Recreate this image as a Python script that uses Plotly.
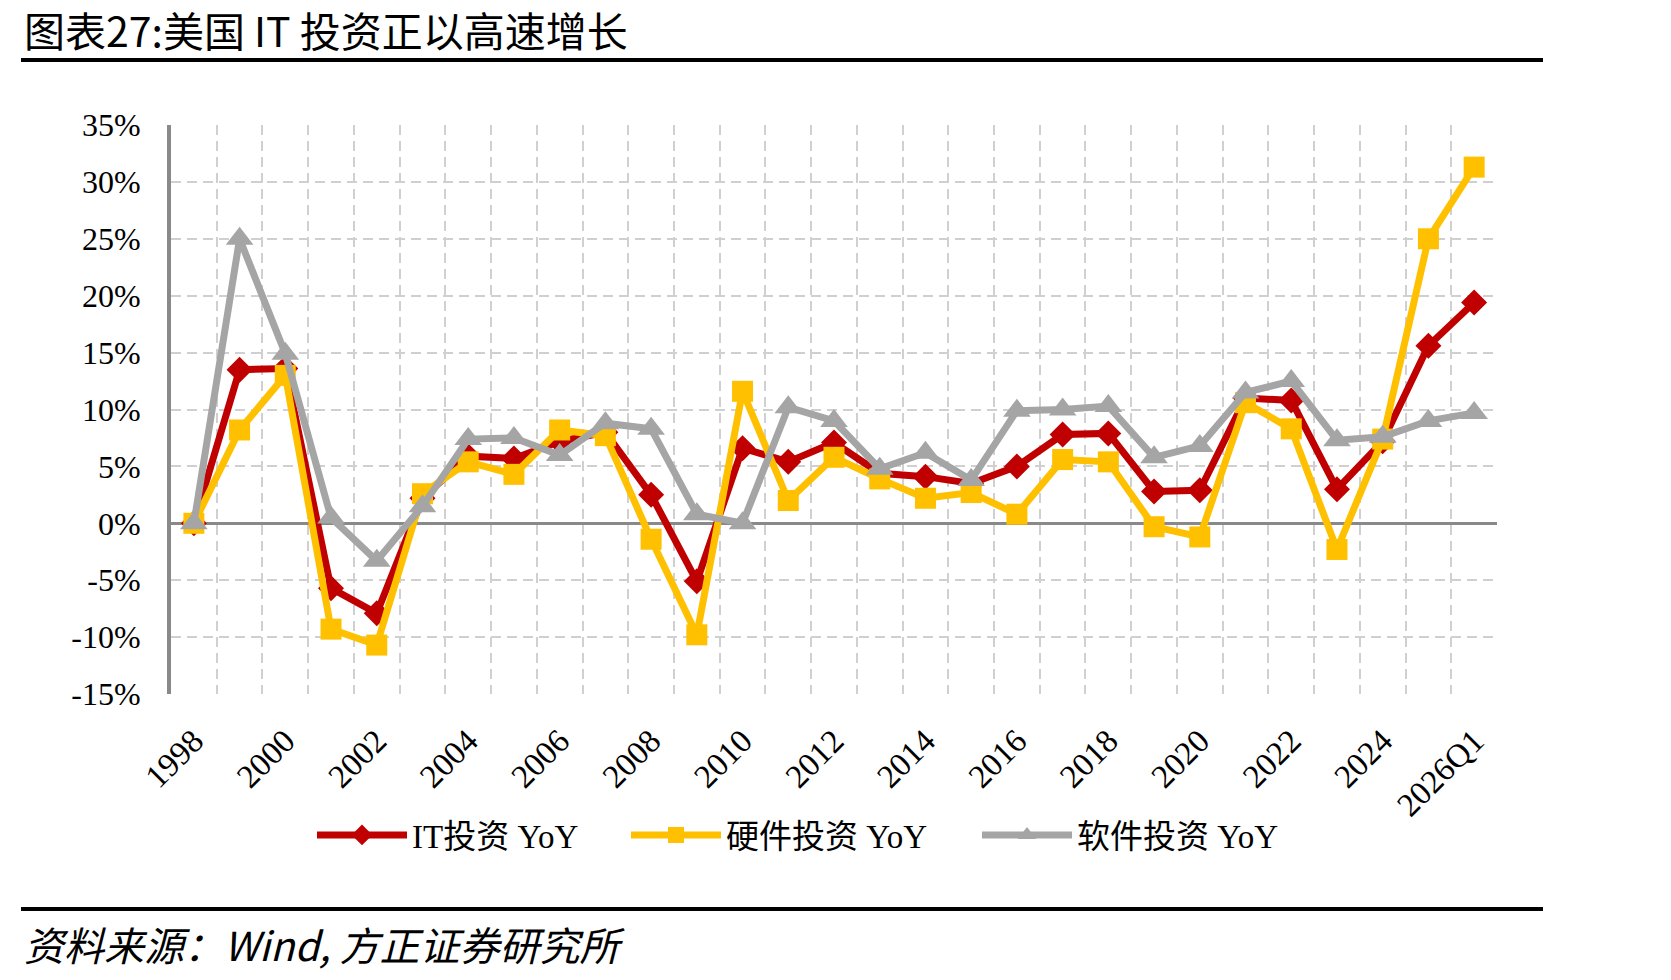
import plotly.graph_objects as go

categories = ["1998", "1999", "2000", "2001", "2002", "2003", "2004", "2005", "2006", "2007",
              "2008", "2009", "2010", "2011", "2012", "2013", "2014", "2015", "2016", "2017",
              "2018", "2019", "2020", "2021", "2022", "2023", "2024", "2025", "2026Q1"]
tick_labels = ["1998", "", "2000", "", "2002", "", "2004", "", "2006", "",
               "2008", "", "2010", "", "2012", "", "2014", "", "2016", "",
               "2018", "", "2020", "", "2022", "", "2024", "", "2026Q1"]
y_tick_vals = [-15, -10, -5, 0, 5, 10, 15, 20, 25, 30, 35]
y_tick_text = ["-15%", "-10%", "-5%", "0%", "5%", "10%", "15%", "20%", "25%", "30%", "35%"]

it_yoy = [0.0, 13.5, 13.6, -5.7, -7.9, 2.2, 5.9, 5.7, 7.2, 8.0,
          2.5, -5.1, 6.6, 5.4, 7.1, 4.4, 4.1, 3.5, 5.0, 7.8,
          7.9, 2.8, 2.9, 11.0, 10.8, 3.0, 7.2, 15.6, 19.4]
hw_yoy = [0.0, 8.2, 13.0, -9.3, -10.7, 2.6, 5.4, 4.3, 8.2, 7.7,
          -1.4, -9.8, 11.6, 2.0, 5.8, 3.9, 2.2, 2.7, 0.8, 5.6,
          5.4, -0.3, -1.2, 10.6, 8.3, -2.3, 7.4, 25.0, 31.3]
sw_yoy = [0.0, 25.0, 14.9, 0.5, -3.3, 1.5, 7.4, 7.5, 6.0, 8.8,
          8.3, 0.8, 0.0, 10.2, 9.0, 4.8, 6.2, 3.8, 9.9, 10.0,
          10.3, 5.8, 6.8, 11.5, 12.5, 7.3, 7.6, 9.0, 9.7]

series_names = ["IT投资 YoY", "硬件投资 YoY", "软件投资 YoY"]

W, H = 1671, 980
L, R, T, B = 171, 174, 125, 286
PW, PH = W - L - R, H - T - B


def px(x):
    return (x - L) / PW


def py(y):
    return (H - B - y) / PH


SERIF = "Liberation Serif, 'Noto Sans CJK SC', serif"
CJK = "'Noto Sans CJK SC', sans-serif"

fig = go.Figure()
fig.add_trace(go.Scatter(
    x=categories, y=it_yoy, name=series_names[0], mode="lines+markers", legend="legend",
    line=dict(color="#C00000", width=7),
    marker=dict(symbol="diamond", size=20, color="#C00000"),
))
fig.add_trace(go.Scatter(
    x=categories, y=hw_yoy, name=series_names[1], mode="lines+markers", legend="legend2",
    line=dict(color="#FFC000", width=7),
    marker=dict(symbol="square", size=21, color="#FFC000"),
))
fig.add_trace(go.Scatter(
    x=categories, y=sw_yoy, name=series_names[2], mode="lines+markers", legend="legend3",
    line=dict(color="#A5A5A5", width=7),
    marker=dict(symbol="triangle-up", size=24, color="#A5A5A5"),
))


def legend_at(xpix):
    return dict(
        orientation="h", x=px(xpix), y=py(835), xanchor="left", yanchor="middle",
        font=dict(family=SERIF, size=33, color="black"),
        itemwidth=90, bgcolor="rgba(0,0,0,0)",
    )


fig.update_layout(
    width=W, height=H,
    margin=dict(l=L, r=R, t=T, b=B),
    paper_bgcolor="white", plot_bgcolor="white",
    font=dict(family=SERIF, color="black", size=32),
    showlegend=True,
    legend=legend_at(312),
    legend2=legend_at(626),
    legend3=legend_at(977),
    xaxis=dict(
        type="category", tickmode="array", tickvals=categories, ticktext=tick_labels,
        tickson="boundaries", tickangle=-45,
        showgrid=True, gridcolor="#D0D0D0", gridwidth=2, griddash="10px,6px",
        showline=False, zeroline=False, ticks="",
        ticklabelstandoff=20,
        tickfont=dict(family=SERIF, size=33, color="black"),
        range=[-0.5, 28.5],
    ),
    yaxis=dict(
        range=[-15, 35], tickmode="array", tickvals=y_tick_vals, ticktext=y_tick_text,
        showgrid=True, gridcolor="#D0D0D0", gridwidth=2, griddash="10px,6px",
        zeroline=True, zerolinecolor="#898989", zerolinewidth=3,
        showline=True, linecolor="#898989", linewidth=4,
        ticks="", ticklabelstandoff=20,
        tickfont=dict(family=SERIF, size=32, color="black"),
    ),
    shapes=[
        dict(type="line", xref="paper", yref="paper", x0=px(21), x1=px(1543), y0=py(60), y1=py(60),
             line=dict(color="black", width=4)),
        dict(type="line", xref="paper", yref="paper", x0=px(21), x1=px(1543), y0=py(909), y1=py(909),
             line=dict(color="black", width=4)),
    ],
    annotations=[
        dict(text="图表27:美国 IT 投资正以高速增长", xref="paper", yref="paper",
             x=px(22), y=py(29), xanchor="left", yanchor="middle", showarrow=False,
             font=dict(family=CJK, size=41, color="black")),
        dict(text="<i>资料来源：Wind, 方正证券研究所</i>", xref="paper", yref="paper",
             x=px(22), y=py(944), xanchor="left", yanchor="middle", showarrow=False,
             font=dict(family=CJK, size=40, color="black")),
    ],
)

fig.write_html("out.html")
